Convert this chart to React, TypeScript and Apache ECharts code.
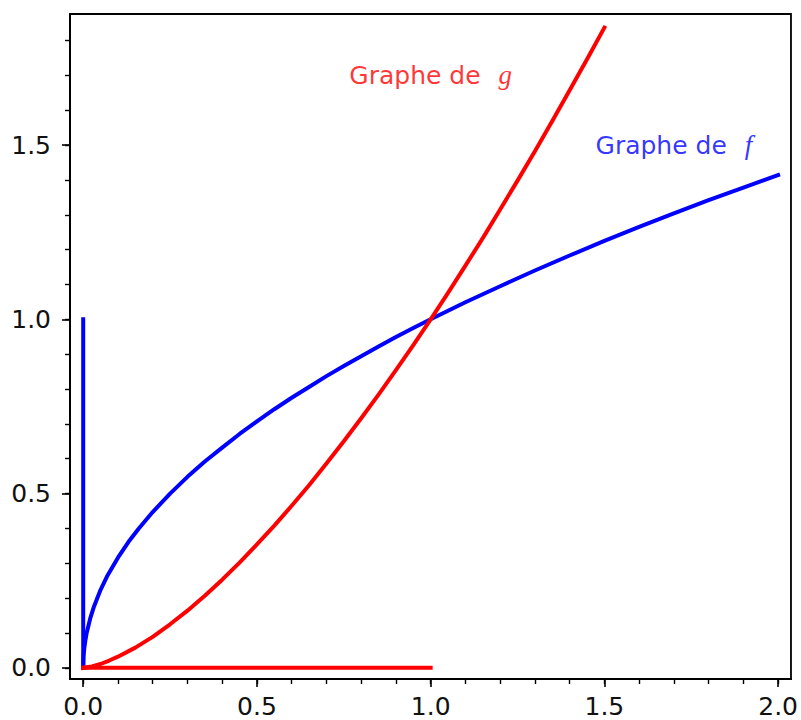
import React, { useEffect, useRef } from "react";
import * as echarts from "echarts";

// Graph of f (blue)
const fX = [0, 0.001, 0.003, 0.006, 0.01, 0.02, 0.03, 0.05, 0.07, 0.1, 0.13, 0.16, 0.2, 0.25, 0.3, 0.35, 0.4, 0.45, 0.5, 0.55, 0.6, 0.65, 0.7, 0.75, 0.8, 0.85, 0.9, 0.95, 1.0, 1.1, 1.2, 1.3, 1.4, 1.5, 1.6, 1.7, 1.8, 1.9, 2.0];
const fY = [0, 0.032, 0.055, 0.077, 0.1, 0.141, 0.173, 0.224, 0.265, 0.316, 0.361, 0.4, 0.447, 0.5, 0.548, 0.592, 0.632, 0.671, 0.707, 0.742, 0.775, 0.806, 0.837, 0.866, 0.894, 0.922, 0.949, 0.975, 1.0, 1.049, 1.095, 1.14, 1.183, 1.225, 1.265, 1.304, 1.342, 1.378, 1.414];
// Graph of g (red)
const gX = [0, 0.025, 0.05, 0.075, 0.1, 0.15, 0.2, 0.25, 0.3, 0.35, 0.4, 0.45, 0.5, 0.55, 0.6, 0.65, 0.7, 0.75, 0.8, 0.85, 0.9, 0.95, 1.0, 1.05, 1.1, 1.15, 1.2, 1.25, 1.3, 1.35, 1.4, 1.45, 1.5];
const gY = [0, 0.004, 0.011, 0.021, 0.032, 0.058, 0.089, 0.125, 0.164, 0.207, 0.253, 0.302, 0.354, 0.408, 0.465, 0.524, 0.586, 0.65, 0.716, 0.784, 0.854, 0.926, 1.0, 1.076, 1.154, 1.233, 1.315, 1.398, 1.482, 1.569, 1.657, 1.746, 1.837];
// Extra segments
const blueSegX = [0, 0];
const blueSegY = [0, 1];
const redSegX = [0, 1];
const redSegY = [0, 0];
// Ticks
const majorTicks = [0, 0.5, 1.0, 1.5, 2.0];
const xMinorTicks = [0, 0.1, 0.2, 0.3, 0.4, 0.5, 0.6, 0.7, 0.8, 0.9, 1.0, 1.1, 1.2, 1.3, 1.4, 1.5, 1.6, 1.7, 1.8, 1.9, 2.0];
const yMajorTicks = [0, 0.5, 1.0, 1.5];
const yMinorTicks = [0, 0.1, 0.2, 0.3, 0.4, 0.5, 0.6, 0.7, 0.8, 0.9, 1.0, 1.1, 1.2, 1.3, 1.4, 1.5, 1.6, 1.7, 1.8];
// Axis ranges
const xRange = [-0.038, 2.037];
const yRange = [-0.032, 1.876];
// Annotations
const annotTexts = ["Graphe de ", "Graphe de "];
const annotSymbols = ["g", "f"];
const annotX = [1.0, 1.7];
const annotY = [1.7, 1.5];
const annotColors = ["#ff0000", "#0000ff"];

const zip = (xs: number[], ys: number[]) => xs.map((x, i) => [x, ys[i]]);

export default function App() {
  const ref = useRef<HTMLDivElement>(null);
  useEffect(() => {
    if (!ref.current) return;
    const chart = echarts.init(ref.current, null, { renderer: "svg" });
    const FONT = "DejaVu Sans";
    const labelColor = "#111";
    const lineSeries = (data: number[][], color: string) => ({
      type: "line",
      data,
      showSymbol: false,
      symbol: "none",
      silent: true,
      smooth: false,
      lineStyle: { color, width: 4, cap: "square", join: "round" },
      xAxisIndex: 0,
      yAxisIndex: 0,
      z: 2,
    });
    const annotSeries = annotX.map((x, i) => ({
      type: "scatter",
      data: [[x, annotY[i]]],
      symbolSize: 0,
      silent: true,
      xAxisIndex: 0,
      yAxisIndex: 0,
      z: 3,
      label: {
        show: true,
        position: "inside",
        formatter: `{a|${annotTexts[i]}}{m|${annotSymbols[i]}}`,
        rich: {
          a: { fontFamily: FONT, fontSize: 25, color: annotColors[i] },
          m: {
            fontFamily: "Liberation Serif",
            fontStyle: "italic",
            fontSize: 27,
            color: annotColors[i],
            padding: [0, 0, 0, 10],
          },
        },
      },
    }));
    const baseAxis = {
      type: "value",
      splitLine: { show: false },
      axisLine: { show: true, onZero: false, lineStyle: { color: "#000", width: 1.8 } },
    };
    chart.setOption({
      animation: false,
      backgroundColor: "#ffffff",
      grid: {
        left: 70,
        right: 7,
        top: 14,
        bottom: 41,
        show: true,
        borderColor: "#000",
        borderWidth: 1.8,
        backgroundColor: "transparent",
      },
      xAxis: [
        {
          ...baseAxis,
          min: xRange[0],
          max: xRange[1],
          position: "bottom",
          axisTick: {
            show: true,
            inside: false,
            length: 8,
            customValues: majorTicks,
            lineStyle: { color: "#000", width: 1.6 },
          },
          axisLabel: {
            show: true,
            customValues: majorTicks,
            formatter: (v: number) => v.toFixed(1),
            fontFamily: FONT,
            fontSize: 25,
            color: labelColor,
            margin: 15,
          },
        },
        {
          ...baseAxis,
          min: xRange[0],
          max: xRange[1],
          position: "bottom",
          axisTick: {
            show: true,
            inside: false,
            length: 5,
            customValues: xMinorTicks,
            lineStyle: { color: "#000", width: 1.4 },
          },
          axisLabel: { show: false },
        },
      ],
      yAxis: [
        {
          ...baseAxis,
          min: yRange[0],
          max: yRange[1],
          position: "left",
          axisTick: {
            show: true,
            inside: false,
            length: 8,
            customValues: yMajorTicks,
            lineStyle: { color: "#000", width: 1.6 },
          },
          axisLabel: {
            show: true,
            customValues: yMajorTicks,
            formatter: (v: number) => v.toFixed(1),
            fontFamily: FONT,
            fontSize: 25,
            color: labelColor,
            margin: 19,
          },
        },
        {
          ...baseAxis,
          min: yRange[0],
          max: yRange[1],
          position: "left",
          axisTick: {
            show: true,
            inside: false,
            length: 5,
            customValues: yMinorTicks,
            lineStyle: { color: "#000", width: 1.4 },
          },
          axisLabel: { show: false },
        },
      ],
      series: [
        lineSeries(zip(blueSegX, blueSegY), "#0000ff"),
        lineSeries(zip(fX, fY), "#0000ff"),
        lineSeries(zip(gX, gY), "#ff0000"),
        lineSeries(zip(redSegX, redSegY), "#ff0000"),
        ...annotSeries,
      ],
    });
    return () => chart.dispose();
  }, []);
  return (
    <div
      ref={ref}
      style={{ position: "absolute", left: 0, top: 0, width: 801, height: 720 }}
    />
  );
}
